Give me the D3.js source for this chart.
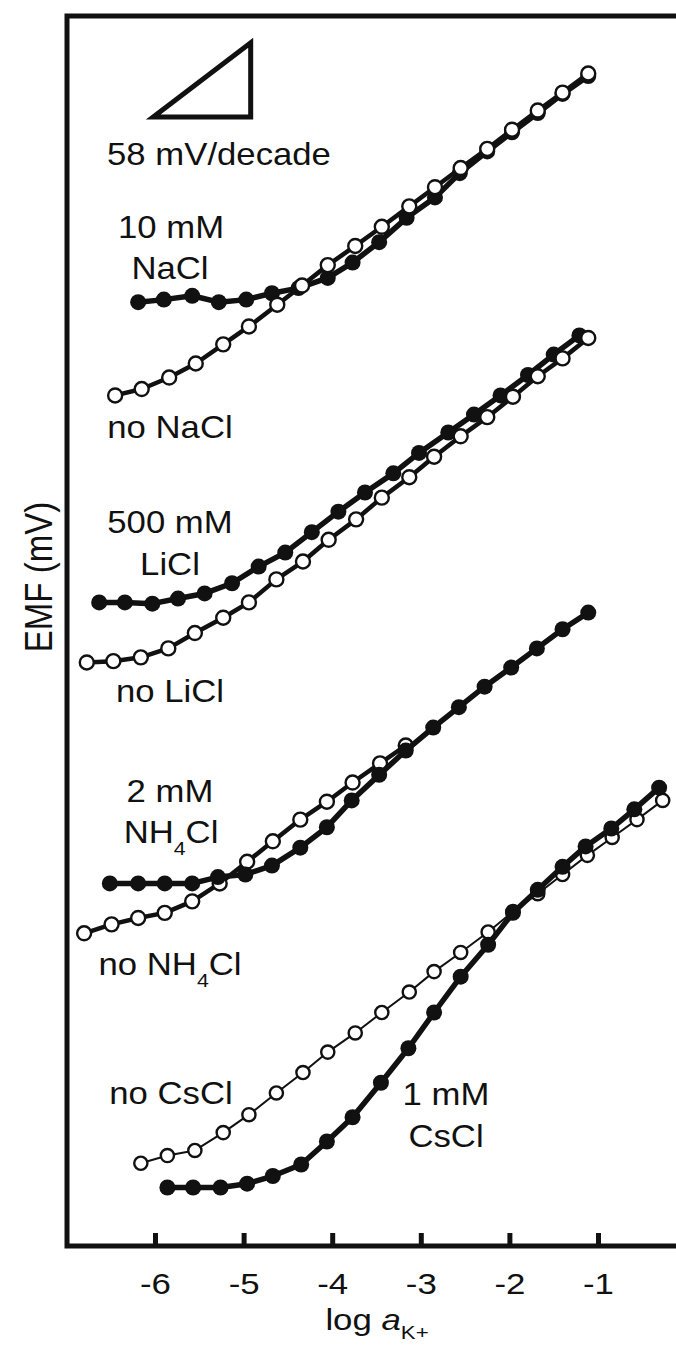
<!DOCTYPE html>
<html>
<head>
<meta charset="utf-8">
<script src="https://cdn.jsdelivr.net/npm/d3@7"></script>
<style>
    body { margin: 0; background: #ffffff; }
    svg { display: block; }
    text { font-family: "Liberation Sans", Arial, sans-serif; fill: #111; }
</style>
</head>
<body>
<svg id="chart" width="676" height="1346"></svg>
<script>
// log aK+ , EMF (mV)
const noNaCl = [[-6.45,665],[-6.15,670],[-5.84,679],[-5.54,690],[-5.23,705],[-4.94,719],[-4.62,736],[-4.34,751],[-4.05,767],[-3.74,782],[-3.44,797],[-3.13,813],[-2.84,828],[-2.55,843],[-2.25,858],[-1.97,873],[-1.68,888],[-1.40,902],[-1.11,917]];
const withNaCl = [[-6.19,738],[-5.90,740],[-5.58,743],[-5.28,738],[-4.97,740],[-4.68,745],[-4.38,749],[-4.05,757],[-3.77,769],[-3.47,785],[-3.16,804],[-2.84,820],[-2.56,839],[-2.25,856],[-1.97,871],[-1.68,886],[-1.40,901],[-1.11,915]];
const noLiCl = [[-6.77,456],[-6.47,457],[-6.16,460],[-5.85,467],[-5.55,479],[-5.23,491],[-4.94,503],[-4.63,521],[-4.33,535],[-4.04,552],[-3.73,568],[-3.44,585],[-3.13,601],[-2.85,617],[-2.55,633],[-2.25,648],[-1.96,664],[-1.68,680],[-1.40,694],[-1.11,710]];
const withLiCl = [[-6.63,503],[-6.34,503],[-6.03,502],[-5.74,506],[-5.44,510],[-5.13,518],[-4.83,531],[-4.53,542],[-4.23,558],[-3.93,574],[-3.63,589],[-3.31,604],[-3.02,620],[-2.69,636],[-2.40,650],[-2.10,665],[-1.79,681],[-1.50,697],[-1.21,712]];
const noNH4Cl = [[-6.80,244],[-6.49,251],[-6.19,256],[-5.89,260],[-5.58,269],[-5.27,283],[-4.96,300],[-4.67,316],[-4.36,333],[-4.06,347],[-3.77,362],[-3.46,377],[-3.17,391]];
const withNH4Cl = [[-6.51,283],[-6.19,283],[-5.89,283],[-5.58,283],[-5.29,288],[-4.98,290],[-4.68,297],[-4.36,311],[-4.06,327],[-3.78,348],[-3.47,368],[-3.17,387],[-2.86,405],[-2.57,421],[-2.28,437],[-1.98,452],[-1.69,467],[-1.40,482],[-1.11,495]];
const noCsCl = [[-6.16,64],[-5.86,70],[-5.55,74],[-5.23,88],[-4.94,102],[-4.63,119],[-4.33,135],[-4.05,151],[-3.74,166],[-3.44,182],[-3.13,198],[-2.85,214],[-2.55,229],[-2.24,245],[-1.96,261],[-1.68,275],[-1.40,290],[-1.12,305],[-0.84,319],[-0.56,333],[-0.27,348]];
const withCsCl = [[-5.86,45],[-5.57,45],[-5.26,45],[-4.96,48],[-4.67,54],[-4.35,63],[-4.06,81],[-3.77,100],[-3.45,127],[-3.14,154],[-2.85,182],[-2.55,210],[-2.24,235],[-1.96,260],[-1.68,278],[-1.40,296],[-1.14,312],[-0.85,326],[-0.59,341],[-0.31,358]];

const xTicks = [-6, -5, -4, -3, -2, -1];

// 58 mV per decade reference triangle (log units, mV)
const slopeTriangle = { x0: -6.02, x1: -4.92, y0: 883, rise: 58 };

const svg = d3.select("#chart");
const frame = { left: 67, top: 16, bottom: 1246, right: 720 };
const stretch = 1.15;

const x = d3.scaleLinear().domain([-6, -1]).range([155, 598]);
const y = d3.scaleLinear().domain([0, 962]).range([1245, 16]);

const line = d3.line()
    .x(function(d) { return x(d[0]); })
    .y(function(d) { return y(d[1]); });

// drawing order matters: later series sit on top
const series = [
    { data: withNaCl, filled: true, lineWidth: 5.5 },
    { data: noNaCl, filled: false, lineWidth: 4.5 },
    { data: withLiCl, filled: true, lineWidth: 5.5 },
    { data: noLiCl, filled: false, lineWidth: 4.5 },
    { data: noNH4Cl, filled: false, lineWidth: 4.5 },
    { data: withNH4Cl, filled: true, lineWidth: 5.5 },
    { data: noCsCl, filled: false, lineWidth: 2, thin: true },
    { data: withCsCl, filled: true, lineWidth: 5.5 }
];

const labels = [
    { parts: [{ text: "58 mV/decade" }], x: 219, y: 165 },
    { parts: [{ text: "10 mM" }], x: 171, y: 238 },
    { parts: [{ text: "NaCl" }], x: 170, y: 279 },
    { parts: [{ text: "no NaCl" }], x: 170, y: 438 },
    { parts: [{ text: "500 mM" }], x: 170, y: 533 },
    { parts: [{ text: "LiCl" }], x: 170, y: 575 },
    { parts: [{ text: "no LiCl" }], x: 170, y: 702 },
    { parts: [{ text: "2 mM" }], x: 170, y: 802 },
    { parts: [{ text: "NH" }, { text: "4", sub: true }, { text: "Cl" }], x: 171, y: 843 },
    { parts: [{ text: "no NH" }, { text: "4", sub: true }, { text: "Cl" }], x: 170, y: 975 },
    { parts: [{ text: "no CsCl" }], x: 171, y: 1104 },
    { parts: [{ text: "1 mM" }], x: 446, y: 1105 },
    { parts: [{ text: "CsCl" }], x: 446, y: 1147 }
];

drawFrame();
drawAxis();
drawTriangle();
series.forEach(drawSeries);
labels.forEach(function(l) {
    drawLabel(l.parts, l.x, l.y, 31);
});
drawAxisTitles();

function drawFrame() {
    svg.append("path")
        .attr("d", "M" + frame.right + "," + frame.top + "H" + frame.left + "V" + frame.bottom + "H" + frame.right)
        .attr("fill", "none")
        .attr("stroke", "#111")
        .attr("stroke-width", 5);
}

function drawAxis() {
    const axis = svg.append("g")
        .attr("transform", "translate(0," + frame.bottom + ")")
        .call(
            d3.axisBottom(x)
                .tickValues(xTicks)
                .tickFormat(function(d) { return String(d); })
                .tickSizeInner(-13)
                .tickSizeOuter(0)
                .tickPadding(27)
        );

    axis.select(".domain").remove();
    axis.selectAll(".tick line")
        .attr("stroke", "#111")
        .attr("stroke-width", 5);
    axis.selectAll(".tick text")
        .attr("transform", "scale(1.2,1)")
        .style("font-size", "29px")
        .style("font-family", "'Liberation Sans', Arial, sans-serif")
        .attr("fill", "#111");
}

function drawTriangle() {
    const t = slopeTriangle;
    const pts = [[t.x0, t.y0], [t.x1, t.y0], [t.x1, t.y0 + t.rise]];

    svg.append("path")
        .attr("d", line(pts) + "Z")
        .attr("fill", "none")
        .attr("stroke", "#111")
        .attr("stroke-width", 5)
        .attr("stroke-linejoin", "miter");
}

function drawSeries(s) {
    const g = svg.append("g");

    g.append("path")
        .attr("d", line(s.data))
        .attr("fill", "none")
        .attr("stroke", "#111")
        .attr("stroke-width", s.lineWidth)
        .attr("stroke-linejoin", "round");

    g.selectAll("circle")
        .data(s.data)
        .join("circle")
        .attr("cx", function(d) { return x(d[0]); })
        .attr("cy", function(d) { return y(d[1]); })
        .attr("r", s.filled ? 8 : (s.thin ? 6.6 : 7))
        .attr("fill", s.filled ? "#111" : "#fff")
        .attr("stroke", "#111")
        .attr("stroke-width", s.filled ? 0 : 2.4);
}

function drawLabel(parts, cx, by, size) {
    const t = svg.append("text")
        .attr("transform", "translate(" + cx + "," + by + ") scale(1.12,1)")
        .attr("text-anchor", "middle")
        .style("font-size", size + "px");

    let shifted = false;
    parts.forEach(function(p) {
        const span = t.append("tspan").text(p.text);
        if (p.sub) {
            span.attr("dy", 12).style("font-size", Math.round(size * 0.6) + "px");
            shifted = true;
        } else if (shifted) {
            span.attr("dy", -12);
            shifted = false;
        }
    });
}

function drawAxisTitles() {
    svg.append("text")
        .attr("transform", "translate(52,577) scale(1.2,1) rotate(-90)")
        .attr("text-anchor", "middle")
        .style("font-size", "33px")
        .text("EMF (mV)");

    const xt = svg.append("text")
        .attr("transform", "translate(377,1330) scale(1.2,1)")
        .attr("text-anchor", "middle")
        .style("font-size", "29px");

    xt.append("tspan").text("log ");
    xt.append("tspan").style("font-style", "italic").text("a");
    xt.append("tspan").attr("dy", 9).style("font-size", "18.5px").text("K+");
}
</script>
</body>
</html>
